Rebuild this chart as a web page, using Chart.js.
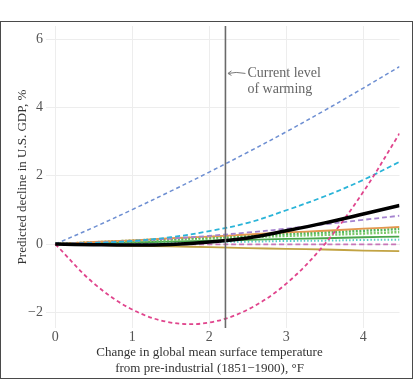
<!DOCTYPE html>
<html>
<head>
<meta charset="utf-8">
<script src="https://cdn.jsdelivr.net/npm/chart.js@4"></script>
<style>
  body { margin: 0; background: #fff; }
  #wrap { position: relative; width: 419px; height: 392px; }
  #frame { position: absolute; left: 0; top: 21px; width: 413px; height: 358px;
           border: 1.5px solid #4a4a4a; box-sizing: border-box; pointer-events: none; }
</style>
</head>
<body>
<div id="wrap">
  <canvas id="c" width="419" height="392"></canvas>
  <div id="frame"></div>
</div>
<script>
// --- Data ---
const temps = [0, 0.5, 1, 1.5, 2, 2.5, 3, 3.5, 4, 4.47];

const combined   = [0, -0.02, -0.03, -0.01, 0.06, 0.18, 0.39, 0.62, 0.88, 1.13];
const modelBlue  = [0, 0.49, 1.01, 1.55, 2.11, 2.69, 3.29, 3.92, 4.57, 5.2];
const modelCyan  = [0, 0.03, 0.09, 0.2, 0.38, 0.62, 0.99, 1.4, 1.88, 2.41];
const modelPink  = [0, -1.15, -1.92, -2.3, -2.3, -1.92, -1.16, 0.0, 1.53, 3.24];
const modelPurple= [0, 0.04, 0.09, 0.16, 0.24, 0.34, 0.45, 0.58, 0.71, 0.83];
const modelOrange= [0, 0.06, 0.11, 0.17, 0.22, 0.28, 0.34, 0.39, 0.45, 0.5];
const modelGreenDot1 = [0, 0.05, 0.1, 0.15, 0.2, 0.25, 0.3, 0.34, 0.39, 0.44];
const modelGreenDot2 = [0, 0.04, 0.08, 0.12, 0.16, 0.2, 0.24, 0.27, 0.31, 0.35];
const modelGreen = [0, 0.02, 0.05, 0.07, 0.1, 0.12, 0.15, 0.17, 0.2, 0.22];
const modelTeal  = [0, 0.01, 0.03, 0.04, 0.06, 0.07, 0.09, 0.1, 0.12, 0.13];
const modelMauve = [0, 0, 0, -0.01, -0.01, -0.01, -0.01, -0.01, -0.01, -0.01];
const modelOlive = [0, -0.02, -0.05, -0.07, -0.09, -0.12, -0.14, -0.16, -0.19, -0.21];

const xTicks = [0, 1, 2, 3, 4];
const yTicks = [-2, 0, 2, 4, 6];
const CURRENT_WARMING = 2.21;
const NOTE_LINES = ['Current level', 'of warming'];
const X_TITLE = ['Change in global mean surface temperature', 'from pre-industrial (1851\u22121900), \u00b0F'];
const Y_TITLE = 'Predicted decline in U.S. GDP, %';

const SERIF = '"Liberation Serif", "DejaVu Serif", serif';

function pts(vals) {
  return temps.map((t, i) => ({ x: t, y: vals[i] }));
}

function line(vals, color, width, dash) {
  return {
    data: pts(vals),
    borderColor: color,
    borderWidth: width,
    borderDash: dash || [],
    pointRadius: 0,
    fill: false,
    tension: 0.35
  };
}

// --- Vertical marker + note ---
const markerPlugin = {
  id: 'marker',
  afterDatasetsDraw(chart) {
    const { ctx, chartArea, scales } = chart;
    const x = scales.x.getPixelForValue(CURRENT_WARMING);
    ctx.save();
    ctx.strokeStyle = '#6a6a6a';
    ctx.lineWidth = 1.6;
    ctx.beginPath();
    ctx.moveTo(x, chartArea.top);
    ctx.lineTo(x, chartArea.bottom);
    ctx.stroke();

    // arrow pointing at line
    const ay = scales.y.getPixelForValue(5.0);
    ctx.strokeStyle = '#777';
    ctx.lineWidth = 1;
    ctx.beginPath();
    ctx.moveTo(x + 20, ay);
    ctx.quadraticCurveTo(x + 10, ay - 2, x + 3, ay);
    ctx.stroke();
    ctx.beginPath();
    ctx.moveTo(x + 6, ay - 2.5);
    ctx.lineTo(x + 2.5, ay);
    ctx.lineTo(x + 6, ay + 2);
    ctx.stroke();

    ctx.fillStyle = '#666';
    ctx.font = '14px ' + SERIF;
    ctx.textBaseline = 'middle';
    ctx.textAlign = 'left';
    ctx.fillText(NOTE_LINES[0], x + 22, ay);
    ctx.fillText(NOTE_LINES[1], x + 22, ay + 16);
    ctx.restore();
  },
  afterDraw(chart) {
    const { ctx } = chart;
    ctx.save();
    ctx.fillStyle = '#333';
    ctx.font = '13px ' + SERIF;
    ctx.textAlign = 'center';
    ctx.textBaseline = 'middle';
    ctx.fillText(X_TITLE[0], chart.width / 2, 353);
    ctx.fillText(X_TITLE[1], chart.width / 2, 369);
    ctx.restore();
  }
};

new Chart(document.getElementById('c'), {
  type: 'line',
  data: {
    datasets: [
      line(combined, '#000', 3.5),
      line(modelPink, '#e0458d', 1.8, [4, 3]),
      line(modelBlue, '#6e8fd2', 1.5, [4, 3]),
      line(modelCyan, '#2ab4d8', 1.8, [5, 3]),
      line(modelPurple, '#a583cf', 1.8, [5, 3]),
      line(modelOrange, '#e3974e', 1.8),
      line(modelGreenDot1, '#52b85e', 2.5, [2, 1.5]),
      line(modelGreenDot2, '#7cc96a', 2.5, [2, 1.5]),
      line(modelGreen, '#4aa64c', 1.8),
      line(modelTeal, '#55cfc6', 2, [1.5, 2]),
      line(modelMauve, '#c777b8', 1.8, [5, 3]),
      line(modelOlive, '#c2a343', 1.8)
    ]
  },
  plugins: [markerPlugin],
  options: {
    responsive: false,
    animation: false,
    layout: { padding: { top: 26, right: 19.5, bottom: 0, left: 0 } },
    plugins: { legend: { display: false }, tooltip: { enabled: false } },
    scales: {
      x: {
        type: 'linear',
        min: -0.12,
        max: 4.47,
        afterFit: (s) => { s.height = 64; },
        afterBuildTicks: (s) => { s.ticks = xTicks.map(v => ({ value: v })); },
        ticks: { color: '#555', font: { family: SERIF, size: 14 }, padding: 1 },
        grid: { color: '#ededed', drawTicks: false },
        border: { display: false }
      },
      y: {
        min: -2.46,
        max: 6.39,
        afterFit: (s) => { s.width = 46; },
        afterBuildTicks: (s) => { s.ticks = yTicks.map(v => ({ value: v })); },
        ticks: {
          color: '#555', font: { family: SERIF, size: 14 }, padding: 3,
          callback: (v) => v < 0 ? '\u2212' + Math.abs(v) : String(v)
        },
        grid: { color: '#ededed', drawTicks: false },
        border: { display: false },
        title: { display: true, text: Y_TITLE, color: '#333', font: { family: SERIF, size: 13 }, padding: { top: 15, bottom: 2 } }
      }
    }
  }
});
</script>
</body>
</html>
